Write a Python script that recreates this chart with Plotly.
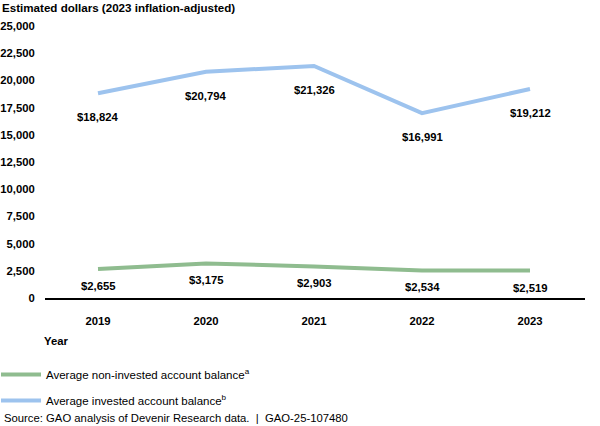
import plotly.graph_objects as go

years = ["2019", "2020", "2021", "2022", "2023"]
non_invested = [2655, 3175, 2903, 2534, 2519]
invested = [18824, 20794, 21326, 16991, 19212]
y_ticks = [0, 2500, 5000, 7500, 10000, 12500, 15000, 17500, 20000, 22500, 25000]

FONT = "Liberation Sans, Arial, sans-serif"
GREEN = "#8fbc8f"
BLUE = "#9dc3ee"
FS = 11.3

x_idx = list(range(len(years)))

fig = go.Figure()
fig.add_trace(go.Scatter(
    x=x_idx, y=non_invested, mode="lines",
    line=dict(color=GREEN, width=4),
    name="Average non-invested account balance<sup>a</sup>",
    legendgroup="g1",
    hoverinfo="skip",
))
fig.add_trace(go.Scatter(
    x=x_idx, y=invested, mode="lines",
    line=dict(color=BLUE, width=4),
    name="Average invested account balance<sup>b</sup>",
    legendgroup="g2",
    hoverinfo="skip",
))

for xi, v in zip(x_idx, invested):
    fig.add_annotation(x=xi, y=v, text=f"<b>${v:,}</b>", showarrow=False,
                       yshift=-24, font=dict(family=FONT, size=FS, color="black"))
for xi, v in zip(x_idx, non_invested):
    fig.add_annotation(x=xi, y=v, text=f"<b>${v:,}</b>", showarrow=False,
                       yshift=-17, font=dict(family=FONT, size=FS, color="black"))

# "Year" axis label
fig.add_annotation(xref="paper", yref="paper", x=-3/540, y=-43/272,
                   xanchor="left", yanchor="middle", showarrow=False,
                   text="<b>Year</b>", font=dict(family=FONT, size=FS, color="black"))
# Source note
fig.add_annotation(xref="paper", yref="paper", x=-43/540, y=-120/272,
                   xanchor="left", yanchor="middle", showarrow=False,
                   text="Source: GAO analysis of Devenir Research data.  |  GAO-25-107480",
                   font=dict(family=FONT, size=FS, color="black"))

fig.update_layout(
    width=600, height=426,
    margin=dict(l=45, r=15, t=26, b=128, autoexpand=False),
    paper_bgcolor="white", plot_bgcolor="white",
    font=dict(family=FONT, size=FS, color="black"),
    title=dict(text="<b>Estimated dollars (2023 inflation-adjusted)</b>",
               x=2/600, xref="container", xanchor="left",
               y=1-8/426, yref="container", yanchor="middle",
               font=dict(family=FONT, size=11.6, color="black")),
    showlegend=True,
    legend=dict(x=-49/540, y=-62/272, xanchor="left", yanchor="top",
                orientation="v", traceorder="grouped",
                font=dict(family=FONT, size=11.5, color="black"),
                bgcolor="rgba(0,0,0,0)", tracegroupgap=7, itemwidth=40),
    xaxis=dict(
        tickmode="array", tickvals=x_idx, ticktext=[f"<b>{y}</b>" for y in years],
        range=[-53/108, 4 + 55/108],
        showgrid=False, zeroline=False, automargin=False,
        showline=True, linecolor="black", linewidth=2,
        ticks="outside", ticklen=11, tickcolor="rgba(0,0,0,0)",
        tickfont=dict(family=FONT, size=FS, color="black"),
        fixedrange=True,
    ),
    yaxis=dict(
        tickmode="array", tickvals=y_ticks,
        ticktext=[f"<b>{t:,}</b>" for t in y_ticks],
        range=[0, 25000],
        showgrid=False, zeroline=False, showline=False, automargin=False,
        ticks="outside", ticklen=7, tickcolor="rgba(0,0,0,0)",
        tickfont=dict(family=FONT, size=FS, color="black"),
        fixedrange=True,
    ),
)

fig.write_html("out.html", config={"displayModeBar": False},
               post_script="document.body.style.margin='0';")
